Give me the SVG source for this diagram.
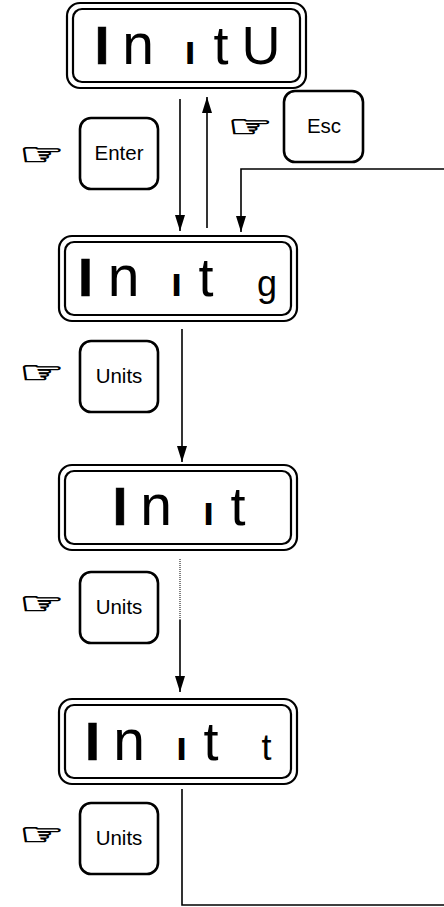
<svg xmlns="http://www.w3.org/2000/svg" width="444" height="907" viewBox="0 0 444 907">
<style>
.bg{fill:#fff}
.out{fill:#fff;stroke:#000;stroke-width:2.2}
.in{fill:none;stroke:#000;stroke-width:2.2}
.key{fill:#fff;stroke:#000;stroke-width:2.6}
.disp{font-family:"Liberation Sans",Arial,sans-serif;font-size:54px;fill:#000;text-anchor:middle}
.b{font-weight:bold;stroke:#000;stroke-width:0.5}
.s{font-size:40px;font-weight:bold}
.n{font-size:57px}
.m{font-size:36px}
.kt{font-family:"Liberation Sans",Arial,sans-serif;font-size:20.5px;fill:#000;text-anchor:middle}
.hand{font-family:"DejaVu Sans",sans-serif;font-size:36px;fill:#000;stroke:#000;stroke-width:0.9;text-anchor:middle}
.ln{fill:none;stroke:#000;stroke-width:1.6}
.dot{fill:none;stroke:#000;stroke-width:1;stroke-dasharray:1 1}
</style>
<defs>
<marker id="ah" viewBox="0 0 16 10" refX="16" refY="5" markerWidth="16" markerHeight="10" markerUnits="userSpaceOnUse" orient="auto">
<path d="M0,0 L16,5 L0,10 z" fill="#000"/>
</marker>
</defs>
<rect class="bg" x="0" y="0" width="444" height="907"/>

<g id="connectors">
<line class="ln" x1="180" y1="99" x2="180" y2="231" marker-end="url(#ah)"/>
<line class="ln" x1="207" y1="228" x2="207" y2="97" marker-end="url(#ah)"/>
<polyline class="ln" points="444,169 241,169 241,232" marker-end="url(#ah)"/>
<line class="ln" x1="182" y1="329" x2="182" y2="462" marker-end="url(#ah)"/>
<line class="dot" x1="180" y1="559" x2="180" y2="620"/>
<line class="ln" x1="180" y1="620" x2="180" y2="692" marker-end="url(#ah)"/>
<polyline class="ln" points="182,789 182,905 444,905"/>
</g>

<g id="initU">
<rect class="out" x="67" y="3" width="239" height="85" rx="13"/>
<rect class="in" x="73" y="9" width="227" height="73" rx="9"/>
<text class="disp" y="64"><tspan class="b" x="102">I</tspan><tspan class="n" x="138">n</tspan><tspan x="165"> </tspan><tspan class="s" x="190">ı</tspan><tspan x="221">t</tspan><tspan x="261">U</tspan></text>
</g>

<g id="initg">
<rect class="out" x="59" y="236" width="238" height="85" rx="13"/>
<rect class="in" x="65" y="242" width="226" height="73" rx="9"/>
<text class="disp" y="296"><tspan class="b" x="85.5">I</tspan><tspan class="n" x="123.5">n</tspan><tspan x="150"> </tspan><tspan class="s" x="176.5">ı</tspan><tspan x="206">t</tspan><tspan x="235"> </tspan><tspan class="m" x="267">g</tspan></text>
</g>

<g id="init">
<rect class="out" x="59" y="465" width="238" height="85" rx="13"/>
<rect class="in" x="65" y="471" width="226" height="73" rx="9"/>
<text class="disp" y="525"><tspan class="b" x="120">I</tspan><tspan class="n" x="156">n</tspan><tspan x="182"> </tspan><tspan class="s" x="208.5">ı</tspan><tspan x="238">t</tspan></text>
</g>

<g id="initt">
<rect class="out" x="59" y="699" width="238" height="85" rx="13"/>
<rect class="in" x="65" y="705" width="226" height="73" rx="9"/>
<text class="disp" y="760"><tspan class="b" x="92.5">I</tspan><tspan class="n" x="129">n</tspan><tspan x="155"> </tspan><tspan class="s" x="181.5">ı</tspan><tspan x="211">t</tspan><tspan x="240"> </tspan><tspan class="m" x="266.5">t</tspan></text>
</g>

<g id="keyEnter">
<text class="hand" transform="translate(42,154) scale(1.4,0.85)" x="0" y="12.5">☞</text>
<rect class="key" x="80" y="118" width="78" height="71" rx="11"/>
<text class="kt" x="119" y="160">Enter</text>
</g>

<g id="keyEsc">
<text class="hand" transform="translate(250.5,126.5) scale(1.4,0.85)" x="0" y="12.5">☞</text>
<rect class="key" x="284" y="91" width="79" height="71" rx="11"/>
<text class="kt" x="324" y="133">Esc</text>
</g>

<g id="keyUnits1">
<text class="hand" transform="translate(42,372.5) scale(1.4,0.85)" x="0" y="12.5">☞</text>
<rect class="key" x="80" y="341" width="78" height="71" rx="11"/>
<text class="kt" x="119" y="383">Units</text>
</g>

<g id="keyUnits2">
<text class="hand" transform="translate(42,603.5) scale(1.4,0.85)" x="0" y="12.5">☞</text>
<rect class="key" x="80" y="572" width="78" height="71" rx="11"/>
<text class="kt" x="119" y="614">Units</text>
</g>

<g id="keyUnits3">
<text class="hand" transform="translate(42,834.5) scale(1.4,0.85)" x="0" y="12.5">☞</text>
<rect class="key" x="80" y="803" width="78" height="71" rx="11"/>
<text class="kt" x="119" y="845">Units</text>
</g>
</svg>
